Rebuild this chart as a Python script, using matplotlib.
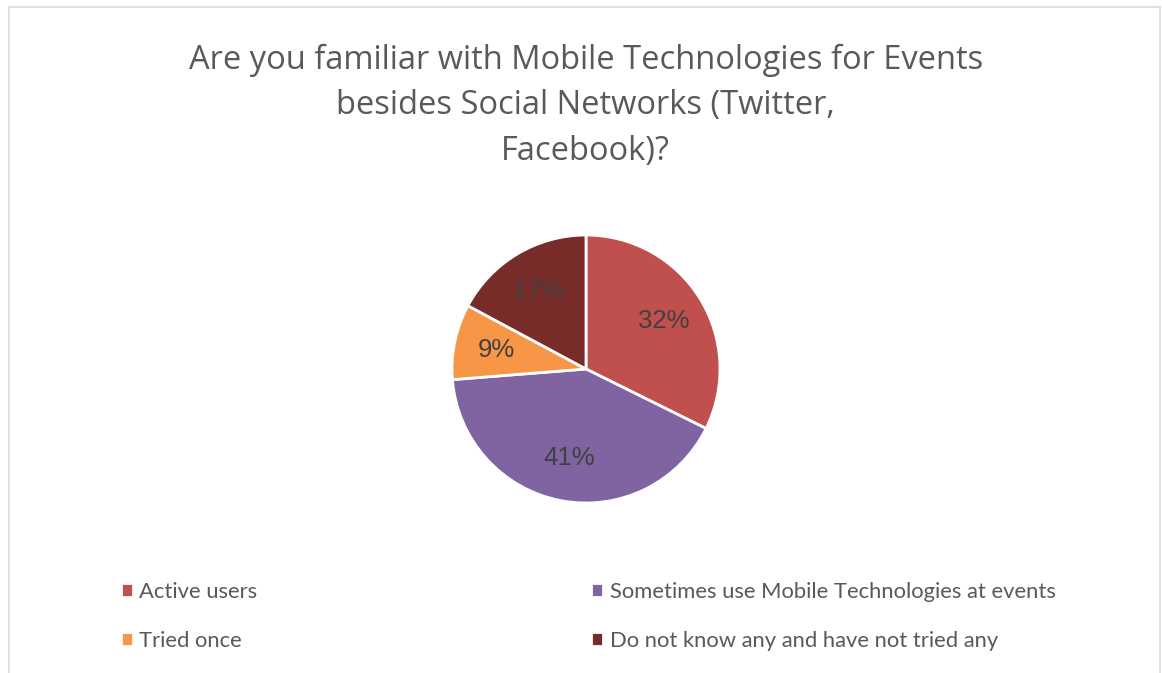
import matplotlib
matplotlib.use("Agg")
import matplotlib.pyplot as plt
from matplotlib.patches import Rectangle

# Survey answers
labels = ['Active users', 'Sometimes use Mobile Technologies at events',
          'Tried once', 'Do not know any and have not tried any']
shares = [32, 41, 9, 17]
colors = ['#C0504D', '#8064A2', '#F79646', '#772C2A']
title = ('Are you familiar with Mobile Technologies for Events\n'
         'besides Social Networks (Twitter,\nFacebook)?')

fig = plt.figure(figsize=(11.62, 6.73), dpi=100)

# light frame around the chart area
fig.patches.append(Rectangle((9 / 1162, -0.01), 1151 / 1162, 1 - 7 / 673 + 0.01,
                             transform=fig.transFigure, fill=False,
                             edgecolor='#D9D9D9', linewidth=1.2))

fig.text(0.504, 0.843, title, ha='center', va='center', fontsize=23.5,
         color='#595959', family='Open Sans', linespacing=1.5)

ax = fig.add_axes([452 / 1162, 170 / 673, 268 / 1162, 268 / 673])
wedges, texts, autotexts = ax.pie(
    shares, colors=colors, startangle=90, counterclock=False,
    autopct='%d%%', pctdistance=0.68,
    wedgeprops=dict(edgecolor='white', linewidth=2),
    textprops=dict(fontsize=18.5, color='#404040', family='Liberation Sans'))
ax.set_xlim(-1, 1)
ax.set_ylim(-1, 1)
ax.set_aspect('auto')
ax.axis('off')

# two-column legend, filled row by row
order = [0, 2, 1, 3]
fig.legend([wedges[i] for i in order], [labels[i] for i in order],
           ncol=2, loc='upper left', bbox_to_anchor=(101 / 1162, 1 - 562 / 673),
           frameon=False, handlelength=0.55, handleheight=0.55,
           handletextpad=0.3, columnspacing=15.2, labelspacing=1.32,
           prop=dict(family='Lato', size=15.8), labelcolor='#595959')

fig.savefig('out.png', dpi=100)
